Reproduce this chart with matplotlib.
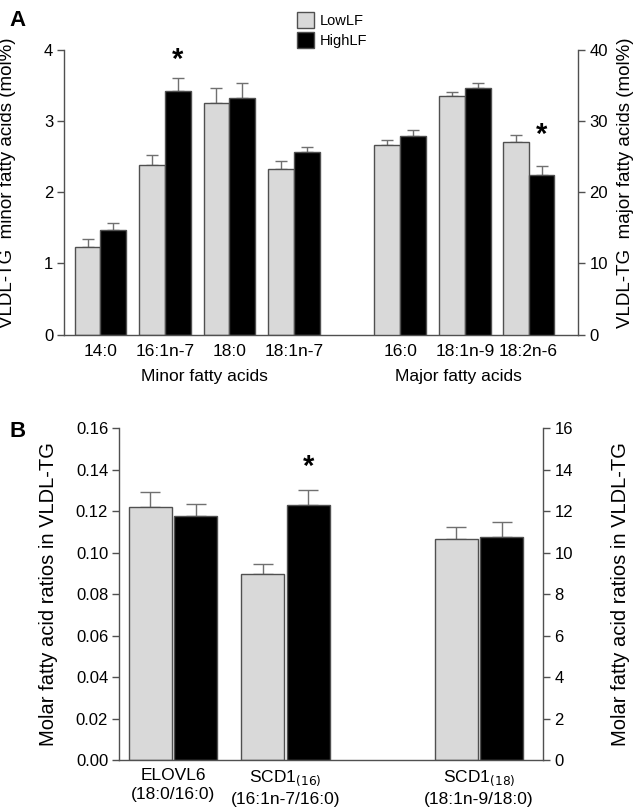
import matplotlib
matplotlib.use("Agg")
import matplotlib.pyplot as plt
import numpy as np
from matplotlib.patches import Patch

plt.rcParams['font.family'] = ['Liberation Sans', 'DejaVu Sans']

# ---------------- data ----------------
minor_labels = ["14:0", "16:1n-7", "18:0", "18:1n-7"]
minor_low = [1.23, 2.38, 3.25, 2.33]
minor_low_err = [0.11, 0.15, 0.21, 0.11]
minor_high = [1.475, 3.43, 3.32, 2.56]
minor_high_err = [0.10, 0.18, 0.21, 0.08]

major_labels = ["16:0", "18:1n-9", "18:2n-6"]
major_low = [26.7, 33.5, 27.0]
major_low_err = [0.6, 0.55, 1.0]
major_high = [27.96, 34.6, 22.5]
major_high_err = [0.8, 0.7, 1.15]

ratio_labels = ["ELOVL6\n(18:0/16:0)", "SCD1$_{(16)}$\n(16:1n-7/16:0)", "SCD1$_{(18)}$\n(18:1n-9/18:0)"]
ratio_low = [0.1219, 0.0895, 0.1068]
ratio_low_err = [0.0075, 0.005, 0.0054]
ratio_high = [0.1178, 0.123, 0.1078]
ratio_high_err = [0.0055, 0.007, 0.0068]

series_names = ["LowLF", "HighLF"]
low_color = "#d9d9d9"
high_color = "#000000"
edge = "#505050"
errc = "#707070"

TICK_FS = 12
XT_FS = 12.5

fig = plt.figure(figsize=(6.34, 8.07), dpi=100)

# ---------------- Panel A ----------------
axA = fig.add_axes([0.1014, 0.5853, 0.8107, 0.3528])
axA2 = axA.twinx()
pos_minor = np.array([0, 1, 2, 3], dtype=float)
pos_major = np.array([4.65, 5.65, 6.64])
w = 0.40

def draw_bars(ax, pos, low, lerr, high, herr, w, gap=0.0, cap=4):
    ax.bar(pos - w / 2 - gap / 2, low, w, color=low_color, edgecolor=edge, linewidth=1.0, zorder=2)
    ax.bar(pos + w / 2 + gap / 2, high, w, color=high_color, edgecolor=edge, linewidth=1.0, zorder=2)
    ax.errorbar(pos - w / 2 - gap / 2, low, yerr=[np.zeros(len(low)), lerr], fmt='none',
                ecolor=errc, elinewidth=1.0, capsize=cap, capthick=1.0, zorder=1)
    ax.errorbar(pos + w / 2 + gap / 2, high, yerr=[np.zeros(len(high)), herr], fmt='none',
                ecolor=errc, elinewidth=1.0, capsize=cap, capthick=1.0, zorder=1)

draw_bars(axA, pos_minor, minor_low, minor_low_err, minor_high, minor_high_err, w)
draw_bars(axA2, pos_major, major_low, major_low_err, major_high, major_high_err, w)

axA.set_xlim(-0.56, 7.41)
axA.set_ylim(0, 4)
axA2.set_ylim(0, 40)
axA.set_yticks([0, 1, 2, 3, 4])
axA2.set_yticks([0, 10, 20, 30, 40])
axA.set_xticks(list(pos_minor) + list(pos_major))
axA.set_xticklabels(minor_labels + major_labels, fontsize=XT_FS)
axA.tick_params(axis='x', length=0, pad=7)
for a in (axA, axA2):
    a.spines['top'].set_visible(False)
    for s in a.spines.values():
        s.set_color(edge)
        s.set_linewidth(1.0)
    a.tick_params(axis='y', labelsize=TICK_FS, length=5, color=edge, width=1.0, pad=3)
axA.spines['right'].set_visible(False)
axA2.spines['left'].set_visible(False)
axA2.spines['bottom'].set_visible(False)

axA.set_ylabel("VLDL-TG  minor fatty acids (mol%)", fontsize=13.5)
axA.yaxis.set_label_coords(-0.094, 0.535)
axA2.set_ylabel("VLDL-TG  major fatty acids (mol%)", fontsize=13.5, rotation=90)
axA2.yaxis.set_label_coords(1.075, 0.535)

axA.text(1.62, -0.148, "Minor fatty acids", transform=axA.get_xaxis_transform(),
         ha='center', va='center', fontsize=XT_FS)
axA.text(5.55, -0.148, "Major fatty acids", transform=axA.get_xaxis_transform(),
         ha='center', va='center', fontsize=XT_FS)

# significance stars
axA.text(pos_minor[1] + w / 2, 3.86, "*", ha='center', va='center', fontsize=21, fontweight='bold')
axA2.text(pos_major[2] + w / 2, 28.0, "*", ha='center', va='center', fontsize=21, fontweight='bold')

fig.text(0.015, 0.975, "A", fontsize=16, fontweight='bold', va='center', ha='left')

handles = [Patch(facecolor=low_color, edgecolor=edge, label=series_names[0]),
           Patch(facecolor=high_color, edgecolor=edge, label=series_names[1])]
fig.legend(handles=handles, loc='upper left', bbox_to_anchor=(0.452, 0.998), frameon=False,
           fontsize=10.5, handlelength=1.2, handleheight=1.35, labelspacing=0.25, handletextpad=0.4,
           borderpad=0.2)

# ---------------- Panel B ----------------
axB = fig.add_axes([0.1882, 0.0582, 0.6688, 0.4111])
axB2 = axB.twinx()
pos_ratio = np.array([0, 1, 2.715])
wB = 0.38
draw_bars(axB, pos_ratio, ratio_low, ratio_low_err, ratio_high, ratio_high_err, wB, gap=0.024, cap=7)
axB.set_xlim(-0.476, 3.286)
axB.set_ylim(0, 0.16)
axB2.set_ylim(0, 16)
axB.set_yticks(np.arange(0, 0.161, 0.02))
axB.set_yticklabels([f"{v:.2f}" for v in np.arange(0, 0.161, 0.02)])
axB2.set_yticks(np.arange(0, 17, 2))
axB.set_xticks(pos_ratio)
axB.set_xticklabels(ratio_labels, fontsize=XT_FS, linespacing=1.3)
axB.tick_params(axis='x', length=0, pad=6)
for a in (axB, axB2):
    a.spines['top'].set_visible(False)
    for s in a.spines.values():
        s.set_color(edge)
        s.set_linewidth(1.0)
    a.tick_params(axis='y', labelsize=TICK_FS, length=5, color=edge, width=1.0, pad=3)
axB.spines['right'].set_visible(False)
axB2.spines['left'].set_visible(False)
axB2.spines['bottom'].set_visible(False)

axB.set_ylabel("Molar fatty acid ratios in VLDL-TG", fontsize=14.5)
axB.yaxis.set_label_coords(-0.145, 0.5)
axB2.set_ylabel("Molar fatty acid ratios in VLDL-TG", fontsize=14.5, rotation=90)
axB2.yaxis.set_label_coords(1.16, 0.5)

axB.text(pos_ratio[1] + wB / 2 + 0.012, 0.1415, "*", ha='center', va='center', fontsize=21, fontweight='bold')

fig.text(0.015, 0.465, "B", fontsize=16, fontweight='bold', va='center', ha='left')

fig.savefig("out.png", dpi=100)
